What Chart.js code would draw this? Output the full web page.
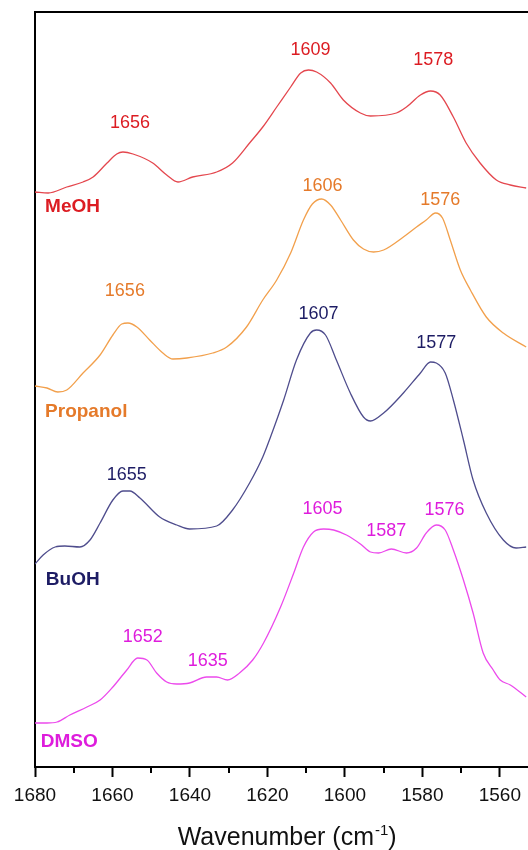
<!DOCTYPE html>
<html>
<head>
<meta charset="utf-8">
<script src="https://cdn.jsdelivr.net/npm/chart.js@4.4.1/dist/chart.umd.min.js"></script>
<style>
html, body { margin: 0; padding: 0; background: #fff; overflow: hidden; }
#wrap { width: 528px; height: 850px; position: relative; }
</style>
</head>
<body>
<div id="wrap"><canvas id="grafica"></canvas></div>
<script>
// Datos: número de onda (cm-1) y absorbancia desplazada (u.a.)
const wnMeOH = [1680.0,1676.6,1671.8,1667.6,1665.0,1661.4,1658.9,1657.3,1654.7,1649.6,1646.0,1643.1,1639.3,1633.1,1629.0,1624.6,1621.2,1617.6,1614.0,1611.4,1609.4,1607.3,1603.7,1600.4,1596.0,1593.4,1586.7,1584.1,1580.5,1577.9,1575.4,1572.0,1568.7,1565.1,1560.9,1557.3,1553.2];
const absMeOH = [5.75,5.74,5.80,5.85,5.90,6.04,6.13,6.15,6.13,6.04,5.92,5.85,5.90,5.95,6.04,6.24,6.40,6.60,6.80,6.94,6.97,6.95,6.84,6.67,6.54,6.51,6.54,6.60,6.72,6.76,6.72,6.50,6.24,6.04,5.87,5.82,5.79];

const wnPropanol = [1680.0,1676.9,1674.1,1671.8,1667.6,1663.2,1659.9,1657.6,1656.0,1653.7,1650.4,1647.0,1644.4,1640.8,1634.1,1630.5,1625.4,1621.2,1617.6,1614.0,1610.7,1608.4,1606.0,1603.7,1601.1,1597.8,1595.2,1592.6,1590.0,1584.9,1581.5,1579.0,1576.6,1574.8,1572.8,1570.2,1567.6,1563.5,1559.1,1553.2];
const absPropanol = [3.81,3.79,3.75,3.77,3.94,4.12,4.32,4.43,4.44,4.40,4.27,4.14,4.08,4.09,4.14,4.20,4.40,4.67,4.87,5.14,5.47,5.63,5.68,5.62,5.47,5.27,5.18,5.15,5.17,5.30,5.40,5.47,5.54,5.49,5.27,4.97,4.77,4.50,4.34,4.20];

const wnBuOH = [1680.0,1677.9,1674.8,1672.3,1668.4,1665.8,1663.2,1659.9,1657.3,1655.5,1652.9,1647.8,1643.4,1640.1,1633.1,1629.0,1624.6,1621.2,1619.2,1615.8,1612.5,1608.9,1607.3,1605.0,1602.2,1598.6,1595.2,1593.4,1590.0,1584.9,1580.5,1577.9,1576.4,1574.1,1572.0,1569.4,1566.9,1563.5,1559.1,1555.8,1553.2];
const absBuOH = [2.03,2.12,2.20,2.21,2.20,2.27,2.44,2.67,2.76,2.76,2.69,2.50,2.42,2.38,2.41,2.57,2.84,3.10,3.30,3.67,4.07,4.34,4.37,4.32,4.07,3.74,3.50,3.46,3.54,3.74,3.94,4.05,4.04,3.94,3.67,3.27,2.87,2.54,2.27,2.19,2.20];

const wnDMSO = [1680.0,1676.9,1674.3,1671.0,1666.6,1663.2,1659.9,1656.3,1653.5,1651.1,1648.6,1646.0,1643.4,1640.1,1635.7,1633.1,1630.3,1627.2,1623.8,1621.0,1616.6,1613.2,1610.7,1608.1,1605.5,1602.9,1599.6,1596.0,1593.4,1591.3,1588.0,1584.1,1581.5,1579.0,1576.4,1574.1,1572.0,1569.4,1566.9,1564.3,1561.7,1559.9,1557.3,1553.2];
const absDMSO = [0.44,0.44,0.45,0.52,0.60,0.67,0.80,0.97,1.09,1.07,0.94,0.85,0.83,0.84,0.90,0.90,0.87,0.94,1.07,1.24,1.60,1.94,2.20,2.35,2.38,2.37,2.32,2.23,2.15,2.14,2.18,2.14,2.19,2.34,2.42,2.37,2.17,1.87,1.54,1.14,0.97,0.87,0.82,0.70];

// Picos marcados: texto, posición (cm-1) y altura de la etiqueta (u.a.)
const peaksMeOH = [1656, 1609, 1578];
const peakAtMeOH = [1655.5, 1608.9, 1577.2];
const peakHMeOH = [6.44, 7.17, 7.07];

const peaksPropanol = [1656, 1606, 1576];
const peakAtPropanol = [1656.8, 1605.8, 1575.4];
const peakHPropanol = [4.76, 5.81, 5.67];

const peaksBuOH = [1655, 1607, 1577];
const peakAtBuOH = [1656.3, 1606.8, 1576.4];
const peakHBuOH = [2.92, 4.53, 4.24];

const peaksDMSO = [1652, 1635, 1605, 1587, 1576];
const peakAtDMSO = [1652.2, 1635.4, 1605.8, 1589.3, 1574.3];
const peakHDMSO = [1.30, 1.06, 2.58, 2.36, 2.57];

// Nombres de las series
const names = ["MeOH", "Propanol", "BuOH", "DMSO"];
const nameAt = [1677.4, 1677.4, 1677.2, 1678.5];
const nameH = [5.60, 3.55, 1.87, 0.25];

// Ejes
const xTicks = [1680, 1660, 1640, 1620, 1600, 1580, 1560];
const xMinorTicks = [1670, 1650, 1630, 1610, 1590, 1570];
const X_MIN = 1552.9, X_MAX = 1680;
const Y_MIN = 0, Y_MAX = 7.55;

const FONT = "'Liberation Sans', Arial, sans-serif";
const lineColors = ["#e4474e", "#f2a04c", "#4f4d8d", "#ec4aec"];
const textColors = ["#dc1c22", "#e57a2a", "#1d1c64", "#de1cdc"];

const series = [
    { wn: wnMeOH, abs: absMeOH, peaks: peaksMeOH, at: peakAtMeOH, h: peakHMeOH },
    { wn: wnPropanol, abs: absPropanol, peaks: peaksPropanol, at: peakAtPropanol, h: peakHPropanol },
    { wn: wnBuOH, abs: absBuOH, peaks: peaksBuOH, at: peakAtBuOH, h: peakHBuOH },
    { wn: wnDMSO, abs: absDMSO, peaks: peaksDMSO, at: peakAtDMSO, h: peakHDMSO }
];

// Etiquetas de picos, nombres, ticks menores y título del eje
const etiquetas = {
    id: "etiquetas",
    afterDatasetsDraw(chart) {
        const { ctx, scales: { x, y } } = chart;
        ctx.save();
        ctx.textBaseline = "middle";
        series.forEach((s, i) => {
            ctx.fillStyle = textColors[i];
            ctx.font = "18px " + FONT;
            ctx.textAlign = "center";
            s.peaks.forEach((p, j) => {
                ctx.fillText(String(p), x.getPixelForValue(s.at[j]), y.getPixelForValue(s.h[j]));
            });
            ctx.font = "bold 19px " + FONT;
            ctx.textAlign = "left";
            ctx.fillText(names[i], x.getPixelForValue(nameAt[i]), y.getPixelForValue(nameH[i]));
        });
        ctx.restore();
    },
    afterDraw(chart) {
        const { ctx, chartArea, scales: { x } } = chart;
        ctx.save();
        ctx.strokeStyle = "#000";
        ctx.lineWidth = 2;
        xMinorTicks.forEach(v => {
            const px = Math.round(x.getPixelForValue(v));
            ctx.beginPath();
            ctx.moveTo(px, chartArea.bottom);
            ctx.lineTo(px, chartArea.bottom + 6);
            ctx.stroke();
        });
        // Título con superíndice
        ctx.fillStyle = "#111";
        ctx.textBaseline = "alphabetic";
        ctx.textAlign = "left";
        const big = "25px " + FONT, small = "15px " + FONT;
        ctx.font = big;
        const a = "Wavenumber (cm", c = ")";
        const wa = ctx.measureText(a).width, wc = ctx.measureText(c).width;
        ctx.font = small;
        const wb = ctx.measureText("-1").width;
        const total = wa + wb + wc + 1;
        let left = (chartArea.left + chartArea.right) / 2 + 6 - total / 2;
        const base = 845;
        ctx.font = big;
        ctx.fillText(a, left, base);
        ctx.font = small;
        ctx.fillText("-1", left + wa + 1, base - 10);
        ctx.font = big;
        ctx.fillText(c, left + wa + wb + 1, base);
        ctx.restore();
    }
};

const ctx = document.getElementById("grafica").getContext("2d");
new Chart(ctx, {
    type: "line",
    data: {
        datasets: series.map((s, i) => ({
            label: names[i],
            data: s.wn.map((w, k) => ({ x: w, y: s.abs[k] })),
            borderColor: lineColors[i],
            borderWidth: 1.3,
            pointRadius: 0,
            cubicInterpolationMode: "monotone",
            fill: false
        }))
    },
    options: {
        responsive: true,
        maintainAspectRatio: false,
        animation: false,
        layout: { padding: 0 },
        plugins: { legend: { display: false }, tooltip: { enabled: false } },
        scales: {
            x: {
                type: "linear",
                position: "bottom",
                reverse: true,
                min: X_MIN,
                max: X_MAX,
                afterBuildTicks: scale => { scale.ticks = xTicks.map(v => ({ value: v })); },
                afterFit: scale => { scale.height = 83; },
                ticks: {
                    color: "#111",
                    font: { family: FONT, size: 19 },
                    padding: 7,
                    maxRotation: 0,
                    autoSkip: false,
                    callback: v => String(v)
                },
                grid: { drawOnChartArea: false, drawTicks: true, tickLength: 10, tickColor: "#000", tickWidth: 2 },
                border: { display: true, color: "#000", width: 2 }
            },
            x2: {
                type: "linear",
                position: "top",
                reverse: true,
                min: X_MIN,
                max: X_MAX,
                afterFit: scale => { scale.height = 12; },
                ticks: { display: false },
                grid: { display: false },
                border: { display: true, color: "#000", width: 2 }
            },
            y: {
                min: Y_MIN,
                max: Y_MAX,
                afterFit: scale => { scale.width = 35; },
                ticks: { display: false },
                grid: { display: false },
                border: { display: true, color: "#000", width: 2 }
            }
        }
    },
    plugins: [etiquetas]
});
</script>
</body>
</html>
